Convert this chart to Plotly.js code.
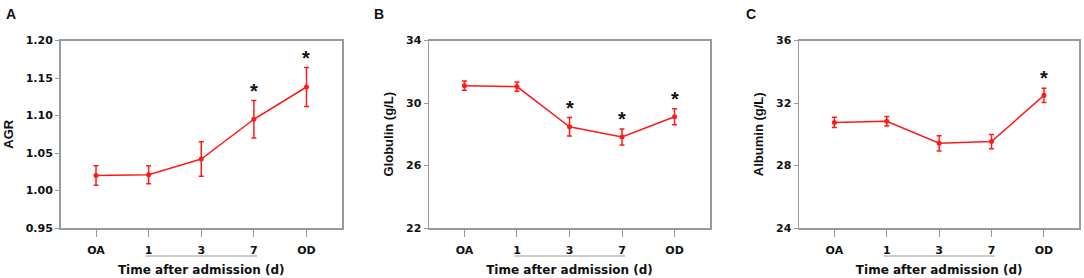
<!DOCTYPE html>
<html>
<head>
<meta charset="utf-8">
<script src="https://cdn.plot.ly/plotly-3.0.1.min.js"></script>
<style>html,body{margin:0;padding:0;background:#fff;}#chart{width:1084px;height:278px;}</style>
</head>
<body>
<div id="chart"></div>
<script>
// ---- data ----
const categories = ["OA", "1", "3", "7", "OD"];

const agrMean = [1.020, 1.021, 1.042, 1.095, 1.138];
const agrErr  = [0.013, 0.012, 0.023, 0.025, 0.026];
const agrSig  = [false, false, false, true, true];

const globulinMean = [31.11, 31.05, 28.48, 27.82, 29.12];
const globulinErr  = [0.30, 0.30, 0.59, 0.51, 0.51];
const globulinSig  = [false, false, true, true, true];

const albuminMean = [30.76, 30.83, 29.42, 29.53, 32.49];
const albuminErr  = [0.32, 0.30, 0.49, 0.46, 0.45];
const albuminSig  = [false, false, false, false, true];

const panelLetters = ["A", "B", "C"];
const yTitles = ["AGR", "Globulin (g/L)", "Albumin (g/L)"];
const xTitle = "Time after admission (d)";
const yRanges = [[0.95, 1.20], [22, 34], [24, 36]];
const yTicks = [[0.95, 1.00, 1.05, 1.10, 1.15, 1.20], [22, 26, 30, 34], [24, 28, 32, 36]];
const underlined = ["1", "7"]; // bracket spans these day labels

// ---- layout ----
const W = 1084, H = 278;
const WIDE = "DejaVu Sans, Verdana, sans-serif";
const NARROW = "Liberation Sans, Arial, sans-serif";
const RED = "#ff1a1a";
const AX = "#9a9a9a";
const xDomainsPx = [[60.5, 342], [429, 710], [799, 1079.3]];
const yDomainPx = [40.5, 228];
const letterPx = [11, 379, 751];

const series = [
  {mean: agrMean, err: agrErr, sig: agrSig},
  {mean: globulinMean, err: globulinErr, sig: globulinSig},
  {mean: albuminMean, err: albuminErr, sig: albuminSig}
];

const traces = [];
const layout = {
  width: W, height: H,
  margin: {l: 0, r: 0, t: 0, b: 0},
  paper_bgcolor: "#fff", plot_bgcolor: "#fff",
  showlegend: false,
  font: {family: NARROW, color: "#111"},
  annotations: [], shapes: []
};

series.forEach((s, i) => {
  const n = i === 0 ? "" : String(i + 1);
  const xa = "x" + n, ya = "y" + n;
  traces.push({
    type: "scatter", mode: "lines+markers",
    x: categories, y: s.mean,
    xaxis: xa, yaxis: ya,
    line: {color: RED, width: 1.5},
    marker: {color: RED, size: 5},
    error_y: {type: "data", array: s.err, visible: true, color: RED, thickness: 1.5, width: 2.5},
    hoverinfo: "skip"
  });
  layout["xaxis" + n] = {
    domain: [xDomainsPx[i][0] / W, xDomainsPx[i][1] / W],
    anchor: ya, type: "category",
    range: [-0.675, categories.length - 1 + 0.675],
    showgrid: false, zeroline: false,
    showline: true, mirror: true, linecolor: AX, linewidth: 1.5,
    ticks: "outside", ticklen: 7, tickwidth: 1, tickcolor: AX,
    ticklabelstandoff: 4,
    tickfont: {family: WIDE, size: 11, color: "#111", weight: "bold"},
    title: {text: "<b>" + xTitle + "</b>", font: {family: WIDE, size: 12, color: "#111"}, standoff: 10},
    fixedrange: true
  };
  layout["yaxis" + n] = {
    domain: [1 - yDomainPx[1] / H, 1 - yDomainPx[0] / H],
    anchor: xa,
    range: yRanges[i],
    tickvals: yTicks[i],
    tickformat: i === 0 ? ".2f" : "d",
    showgrid: false, zeroline: false,
    showline: true, mirror: true, linecolor: AX, linewidth: 1.5,
    ticks: "outside", ticklen: 4, tickwidth: 1, tickcolor: AX,
    tickfont: {family: WIDE, size: 11, color: "#111", weight: "bold"},
    title: {text: "<b>" + yTitles[i] + "</b>", font: {family: NARROW, size: 13, color: "#111"}, standoff: 9},
    fixedrange: true
  };
  // significance stars above error bars
  s.sig.forEach((flag, k) => {
    if (!flag) return;
    layout.annotations.push({
      xref: xa, yref: ya, x: k, y: s.mean[k] + s.err[k],
      text: "<b>*</b>", showarrow: false, yanchor: "middle", yshift: 10,
      font: {family: NARROW, size: 20, color: "#111"}
    });
  });
  // bracket under day labels
  layout.shapes.push({
    type: "line", xref: xa, yref: "paper", layer: "above",
    x0: categories.indexOf(underlined[0]) - 0.06, x1: categories.indexOf(underlined[1]) + 0.06,
    y0: (H - 256) / H, y1: (H - 256) / H,
    line: {color: AX, width: 1.2}
  });
  // panel letter
  layout.annotations.push({
    xref: "paper", yref: "paper", x: letterPx[i] / W, y: 1 - 14 / H,
    xanchor: "center", yanchor: "middle",
    text: "<b>" + panelLetters[i] + "</b>", showarrow: false,
    font: {family: NARROW, size: 14, color: "#111"}
  });
});

Plotly.newPlot("chart", traces, layout, {staticPlot: true, displayModeBar: false});
</script>
</body>
</html>
